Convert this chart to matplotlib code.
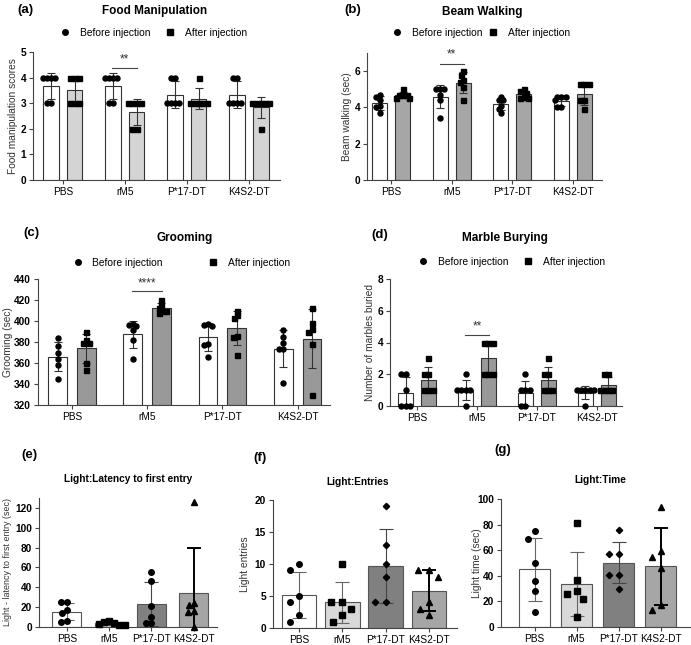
import numpy as np
import matplotlib
matplotlib.use("Agg")
import matplotlib.pyplot as plt
from matplotlib.lines import Line2D

plt.rcParams["font.family"] = ["Liberation Sans", "DejaVu Sans"]

groups = ["PBS", "rM5", "P*17-DT", "K4S2-DT"]

# (a) Food manipulation scores, 6 mice per group
food_before = [[4, 4, 4, 4, 3, 3], [4, 4, 4, 4, 3, 3], [4, 4, 3, 3, 3, 3], [4, 4, 3, 3, 3, 3]]
food_after = [[4, 4, 4, 3, 3, 3], [3, 3, 3, 3, 2, 2], [4, 3, 3, 3, 3, 3], [3, 3, 3, 3, 3, 2]]

# (b) Beam walking (sec)
beam_before = [[4.7, 4.6, 4.4, 4.1, 4.0, 3.7], [5.0, 5.0, 5.0, 4.7, 4.4, 3.4],
               [4.6, 4.4, 4.4, 4.1, 3.9, 3.7], [4.6, 4.6, 4.6, 4.4, 4.0, 4.0]]
beam_after = [[5.0, 4.7, 4.7, 4.7, 4.5, 4.5], [6.0, 5.8, 5.5, 5.4, 5.1, 4.4],
              [5.0, 4.9, 4.8, 4.6, 4.5, 4.5], [5.3, 5.3, 5.3, 4.4, 4.4, 3.9]]

# (c) Grooming (sec)
groom_before = [[384, 376, 370, 364, 358, 345], [396, 397, 395, 391, 382, 364],
                [395, 397, 396, 378, 377, 366], [391, 385, 379, 373, 373, 341]]
groom_after = [[390, 382, 379, 379, 360, 353], [420, 415, 412, 410, 410, 408],
               [410, 403, 406, 385, 386, 368], [412, 398, 390, 392, 378, 330]]

# (d) Marble burying
marble_before = [[2, 2, 1, 0, 0, 0], [2, 1, 1, 1, 1, 0], [2, 1, 1, 1, 0, 0], [1, 1, 1, 1, 1, 0]]
marble_after = [[3, 2, 2, 1, 1, 1], [4, 4, 4, 2, 2, 2], [3, 2, 2, 1, 1, 1], [2, 2, 1, 1, 1, 1]]

# (e)-(g) Light/dark box
latency = [[25, 25, 17, 14, 6, 5], [6, 5, 4, 3, 2, 2], [55, 46, 21, 10, 4, 4], [126, 24, 22, 16, 15, 0]]
entries = [[10, 9, 5, 4, 2, 1], [10, 4, 4, 3, 2, 1], [19, 13, 10, 8, 4, 4], [9, 9, 8, 4, 3, 2]]
light_time = [[75, 69, 50, 36, 28, 12], [81, 37, 28, 26, 22, 8], [76, 57, 57, 41, 41, 30], [94, 59, 55, 46, 17, 13]]

W, H = 691, 645
fig = plt.figure(figsize=(W / 100, H / 100), dpi=100)


def box(l, t, r, b):
    return [l / W, 1 - b / H, (r - l) / W, (b - t) / H]


def ftext(x, y, s, **kw):
    fig.text(x / W, 1 - y / H, s, ha="center", va="center", **kw)


def swarm(ax, xc, vals, d=5.0):
    # simple beeswarm in pixel space
    vals = np.asarray(vals, float)
    pts = ax.transData.transform(np.column_stack([np.full(len(vals), xc), vals]))
    x0 = pts[0, 0]
    placed = []
    for py in sorted(pts[:, 1], reverse=True):
        cands = [0.0]
        ivs = []
        for qx, qy in placed:
            dy = abs(py - qy)
            if dy < d:
                w = np.sqrt(d * d - dy * dy)
                ivs.append((qx - w, qx + w))
                cands += [qx - w, qx + w]
        cands.sort(key=abs)
        for c in cands:
            if all(not (lo + 1e-6 < c < hi - 1e-6) for lo, hi in ivs):
                placed.append((c, py))
                break
    px = np.array([[x0 + c, py] for c, py in placed])
    return ax.transData.inverted().transform(px).T


def style(ax, yticks, ylabel, label_x, label_size=7.3):
    for s in ["top", "right"]:
        ax.spines[s].set_visible(False)
    for s in ["left", "bottom"]:
        ax.spines[s].set_color("#444444")
        ax.spines[s].set_linewidth(0.8)
    ax.tick_params(length=3, width=0.8, color="#444444", labelsize=7.3, pad=2)
    ax.set_xticks(range(4))
    ax.set_xticklabels(groups)
    ax.set_yticks(yticks)
    ax.set_yticklabels([str(t) for t in yticks], fontweight="bold")
    ax.set_ylabel(ylabel, fontsize=label_size, color="#333333")
    ax.yaxis.set_label_coords(label_x, 0.5)


def paired(px_box, before, after, after_color, xlim, ylim, yticks, ylabel, ylab_px,
           sig, leg_xy, colspace):
    ax = fig.add_axes(box(*px_box))
    ax.set_xlim(*xlim)
    ax.set_ylim(*ylim)
    x = np.arange(4)
    for data, off, color, marker in [(before, -0.19, "white", "o"), (after, 0.19, after_color, "s")]:
        means = [np.mean(v) for v in data]
        sds = [np.std(v, ddof=1) for v in data]
        ax.bar(x + off, np.array(means) - ylim[0], bottom=ylim[0], width=0.25, color=color,
               edgecolor="#333333", linewidth=0.8, zorder=1)
        ax.errorbar(x + off, means, yerr=sds, fmt="none", ecolor="#333333",
                    elinewidth=0.8, capsize=3, capthick=0.8, zorder=2)
        for xi, v in zip(x + off, data):
            sx, sy = swarm(ax, xi, v, d=4.2)
            ax.plot(sx, sy, marker, ms=3.6, color="black", ls="none", zorder=3, clip_on=False)
    w = (px_box[2] - px_box[0])
    style(ax, yticks, ylabel, (ylab_px - px_box[0]) / w)
    stars, ly, sy = sig
    ax.plot([0.8, 1.2], [ly, ly], color="#444444", lw=0.8)
    ax.text(1.0, sy, stars, ha="center", va="center", fontsize=8.5, color="#333333")
    handles = [Line2D([], [], marker="o", ls="none", color="black", ms=4, label="Before injection"),
               Line2D([], [], marker="s", ls="none", color="black", ms=4, label="After injection")]
    ax.legend(handles=handles, loc="center", bbox_to_anchor=leg_xy, ncol=2, frameon=False,
              fontsize=7.4, handlelength=1.0, handletextpad=0.95, columnspacing=colspace,
              borderpad=0.2)
    return ax


def single(px_box, data, markers, width, xlim, ylim, yticks, ylabel, ylab_px, gap,
           label_size=7.3):
    ax = fig.add_axes(box(*px_box))
    ax.set_xlim(*xlim)
    ax.set_ylim(*ylim)
    colors = ["white", "#d9d9d9", "#808080", "#a6a6a6"]
    ecolors = ["#666666", "#666666", "#444444", "black"]
    elw = [0.8, 0.8, 0.8, 1.4]
    for i, v in enumerate(data):
        m = np.mean(v)
        s = np.std(v, ddof=1)
        ax.bar(i, m, width=width, color=colors[i], edgecolor="#555555", linewidth=0.8, zorder=1)
        ax.errorbar(i, m, yerr=s, fmt="none", ecolor=ecolors[i], elinewidth=elw[i],
                    capsize=5, capthick=elw[i], zorder=2)
        sx, sy = swarm(ax, i, v, d=gap)
        ms = 3.2 if markers[i] == "D" else 4.0
        ax.plot(sx, sy, markers[i], ms=ms, color="black", ls="none", zorder=3, clip_on=False)
    style(ax, yticks, ylabel, (ylab_px - px_box[0]) / (px_box[2] - px_box[0]), label_size)
    return ax


paired((33, 52, 280, 180), food_before, food_after, "#d4d4d4", (-0.48, 3.5), (0, 5),
       [0, 1, 2, 3, 4, 5], "Food manipulation scores", 18, ("**", 4.36, 4.72),
       (0.488, 1.148), 1.44)
paired((367, 53, 602, 180), beam_before, beam_after, "#a6a6a6", (-0.4, 3.48), (0, 7),
       [0, 2, 4, 6], "Beam walking (sec)", 352, ("**", 6.4, 6.9), (0.485, 1.157), 0.6)
paired((38, 279, 330, 405), groom_before, groom_after, "#999999", (-0.45, 3.43), (320, 440),
       [320, 340, 360, 380, 400, 420, 440], "Grooming (sec)", 13, ("****", 428.5, 436),
       (0.49, 1.127), 4.35)
paired((390, 279, 622, 406), marble_before, marble_after, "#999999", (-0.45, 3.42), (0, 8),
       [0, 2, 4, 6, 8], "Number of marbles buried", 375, ("**", 4.5, 5.0), (0.524, 1.134), 1.44)

single((39, 498, 217, 627), latency, ["o", "s", "o", "^"], 0.69, (-0.66, 3.55), (0, 130),
       [0, 20, 40, 60, 80, 100, 120], "Light - latency to first entry (sec)", 12, 5.5,
       label_size=6.4)
single((273, 500, 457, 628), entries, ["o", "s", "D", "^"], 0.8, (-0.6, 3.65), (0, 20),
       [0, 5, 10, 15, 20], "Light entries", 250, 11)
single((501, 499, 690, 627), light_time, ["o", "s", "D", "^"], 0.75, (-0.8, 3.7), (0, 100),
       [0, 20, 40, 60, 80, 100], "Light time (sec)", 482, 10)

ftext(155, 11, "Food Manipulation", fontsize=8.5, fontweight="bold")
ftext(25, 10, "(a)", fontsize=9.5, fontweight="bold")
ftext(482, 12, "Beam Walking", fontsize=8.5, fontweight="bold")
ftext(353, 10, "(b)", fontsize=9.5, fontweight="bold")
ftext(185, 238, "Grooming", fontsize=8.5, fontweight="bold")
ftext(31, 233, "(c)", fontsize=9.5, fontweight="bold")
ftext(505, 238, "Marble Burying", fontsize=8.5, fontweight="bold")
ftext(380, 235, "(d)", fontsize=9.5, fontweight="bold")
ftext(128, 479, "Light:Latency to first entry", fontsize=7.3, fontweight="bold")
ftext(29, 455, "(e)", fontsize=9.5, fontweight="bold")
ftext(358, 482, "Light:Entries", fontsize=7.3, fontweight="bold")
ftext(260, 458, "(f)", fontsize=9.5, fontweight="bold")
ftext(600, 480, "Light:Time", fontsize=7.3, fontweight="bold")
ftext(503, 450, "(g)", fontsize=9.5, fontweight="bold")

fig.savefig("out.png", dpi=100, facecolor="white")
